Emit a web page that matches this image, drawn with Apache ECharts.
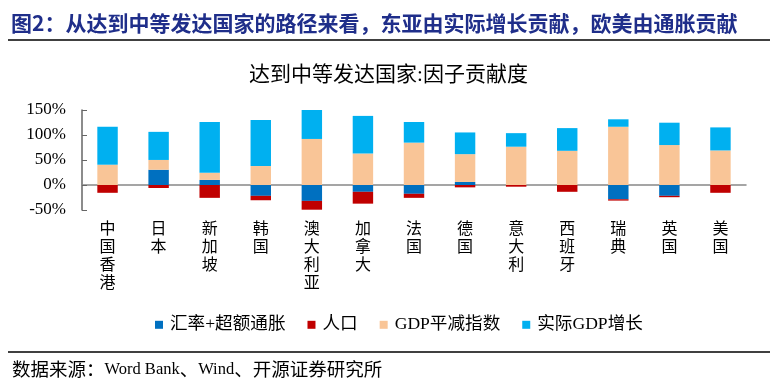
<!DOCTYPE html>
<html><head><meta charset="utf-8">
<script src="https://cdn.jsdelivr.net/npm/echarts@6/dist/echarts.min.js"></script>
<style>html,body{margin:0;padding:0;background:#fff}#c{width:777px;height:392px}</style>
</head><body><div id="c"></div>
<script>
const categories = ['中国香港','日本','新加坡','韩国','澳大利亚','加拿大','法国','德国','意大利','西班牙','瑞典','英国','美国'];
const fxInflation = [0, 30.5, 10.2, -21.7, -31.8, -13.6, -17.6, 6.1, 0, 0, -28.5, -21.7, 0];
const population = [-15.6, -6, -25.7, -8.8, -17.6, -23.7, -8.1, -4.7, -3.4, -13.6, -2.7, -2.7, -15.6];
const gdpDeflator = [40.6, 19.6, 14.2, 37.9, 92.1, 63, 84.7, 55.6, 76.6, 68.4, 116.5, 79.9, 69.1];
const realGdp = [75.9, 56.2, 101.6, 92.1, 58.3, 75.2, 41.3, 43.4, 27.1, 45.4, 14.9, 44.7, 46.1];
const seriesNames = ['汇率+超额通胀','人口','GDP平减指数','实际GDP增长'];
const yTicks = {min: -50, max: 150, interval: 50};

const serif = '"Liberation Serif","Times New Roman","Noto Sans CJK SC",serif';
const colors = ['#0070C0','#C00000','#F9C597','#00B0F0'];
const chart = echarts.init(document.getElementById('c'));
const mk = (name, data, i) => ({
  name, type: 'bar', stack: 'total', data, barWidth: '40%',
  itemStyle: {color: colors[i]}
});
chart.setOption({
  animation: false,
  title: {
    text: '达到中等发达国家:因子贡献度',
    left: 'center', top: 60,
    textStyle: {fontFamily: serif, fontSize: 21, fontWeight: 'normal', color: '#000'}
  },
  legend: {
    data: seriesNames, left: 150, top: 311, itemWidth: 8, itemHeight: 8, itemGap: 22,
    icon: 'rect',
    textStyle: {fontFamily: serif, fontSize: 17.6, color: '#000', padding: [0, 0, 0, 2]}
  },
  grid: {left: 82, right: 31, top: 110, bottom: 182, containLabel: false},
  xAxis: {
    type: 'category', data: categories,
    axisLine: {onZero: true, lineStyle: {color: '#888', width: 1.5}},
    axisTick: {inside: true, length: 5, lineStyle: {color: '#555'}},
    axisLabel: {
      margin: 11, interval: 0, color: '#000', fontFamily: serif, fontSize: 16, lineHeight: 18,
      verticalAlign: 'top',
      formatter: v => v.split('').join('\n')
    }
  },
  yAxis: {
    type: 'value', min: yTicks.min, max: yTicks.max, interval: yTicks.interval,
    axisLine: {show: true, lineStyle: {color: '#666', width: 1.5}},
    axisTick: {show: true, inside: true, length: 5, lineStyle: {color: '#666'}},
    splitLine: {show: false},
    axisLabel: {formatter: '{value}%', color: '#000', fontFamily: serif, fontSize: 17, margin: 16}
  },
  graphic: [
    {type: 'text', left: 11, top: 13, style: {text: '图2：从达到中等发达国家的路径来看，东亚由实际增长贡献，欧美由通胀贡献', fill: '#1F2E8A', font: 'bold 21px "Noto Sans CJK SC"'}},
    {type: 'line', shape: {x1: 8, y1: 40, x2: 770, y2: 40}, style: {stroke: '#000', lineWidth: 1.5}},
    {type: 'line', shape: {x1: 8, y1: 352, x2: 770, y2: 352}, style: {stroke: '#000', lineWidth: 1.5}},
    {type: 'text', left: 12, top: 360, style: {
      text: '{c|数据来源：}{l|Word Bank}{c|、}{l|Wind}{c|、开源证券研究所}',
      rich: {
        c: {fontFamily: '"Noto Sans CJK SC"', fontSize: 18.5, fill: '#000'},
        l: {fontFamily: '"Liberation Serif"', fontSize: 16.5, fill: '#000'}
      }
    }}
  ],
  series: [mk(seriesNames[0], fxInflation, 0), mk(seriesNames[1], population, 1), mk(seriesNames[2], gdpDeflator, 2), mk(seriesNames[3], realGdp, 3)]
});
</script></body></html>
